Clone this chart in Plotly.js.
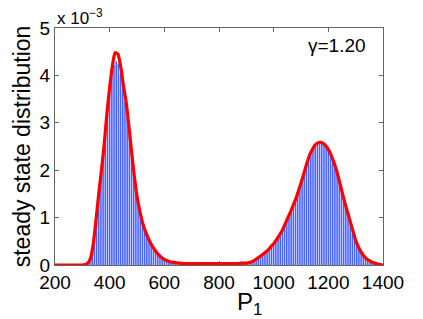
<!DOCTYPE html>
<html>
<head>
<meta charset="utf-8">
<script src="https://cdn.plot.ly/plotly-3.0.1.min.js"></script>
<style>html,body{margin:0;padding:0;background:#fff}#chart{width:423px;height:319px}</style>
</head>
<body>
<div id="chart"></div>
<script>
// Histogram bars (steady state distribution, units of 1e-3), bin centres 304, 312, ... 1392
const barStart = 304;
const barStep = 8;
const barValues = [
  0.00,0.01,0.03,0.09,0.30,0.62,1.03,1.48,1.88,2.30,2.78,3.27,3.68,4.02,4.22,4.30,
  4.25,4.05,3.75,3.45,3.10,2.75,2.30,1.90,1.58,1.30,1.07,0.88,0.72,0.60,0.50,0.42,
  0.34,0.28,0.23,0.18,0.14,0.11,0.09,0.07,0.06,0.05,0.04,0.04,0.03,0.03,0.02,0.02,
  0.02,0.02,0.02,0.01,0.02,0.02,0.01,0.02,0.02,0.02,0.01,0.02,0.02,0.02,0.02,0.01,
  0.02,0.02,0.02,0.02,0.02,0.02,0.02,0.02,0.02,0.03,
  0.03,0.04,0.05,0.06,0.08,0.11,0.14,0.17,0.21,0.25,0.29,0.34,0.39,0.45,0.51,0.58,
  0.66,0.74,0.84,0.94,1.05,1.16,1.27,1.38,1.52,1.66,1.81,1.96,2.11,2.26,2.38,2.47,
  2.53,2.57,2.60,2.59,2.55,2.50,2.43,2.34,2.22,2.09,1.95,1.78,1.59,1.41,1.24,1.08,
  0.92,0.76,0.60,0.47,0.36,0.27,0.20,0.15,0.11,0.08,0.06,0.04,0.03,0.02,0.01
];
// Red curve (units of 1e-3), P1 = 200, 210, ... 1400
const curveStart = 200;
const curveStep = 10;
const curveValues = [
  0,0,0,0,0,0,0,0,0,0,
  0.00,0.01,0.04,0.14,0.45,0.95,1.50,2.00,2.55,3.20,
  3.75,4.20,4.48,4.45,4.20,3.80,3.45,2.95,2.40,1.88,
  1.45,1.15,0.90,0.72,0.58,0.46,0.36,0.28,0.21,0.16,
  0.12,0.09,0.07,0.06,0.05,0.04,0.04,0.03,0.03,0.03,
  0.03,0.03,0.03,0.03,0.03,0.03,0.03,0.03,0.03,0.03,
  0.03,0.03,0.03,0.03,0.03,0.03,0.03,0.03,0.04,0.04,
  0.04,0.05,0.07,0.10,0.14,0.18,0.22,0.27,0.32,0.39,
  0.45,0.53,0.62,0.71,0.84,0.97,1.10,1.24,1.38,1.55,
  1.73,1.92,2.12,2.30,2.42,2.52,2.57,2.59,2.57,2.52,
  2.44,2.32,2.17,2.00,1.78,1.55,1.32,1.12,0.92,0.72,
  0.52,0.38,0.27,0.19,0.13,0.09,0.06,0.04,0.02,0.01,
  0.00
];
const xTicks = [200,400,600,800,1000,1200,1400];
const yTicks = [0,1,2,3,4,5];

const axisColor = '#666666';
const fontFam = 'Liberation Sans, Arial, sans-serif';
const tickFont = {family: fontFam, size: 19, color: '#000'};

const data = [
  {type: 'bar', x0: barStart, dx: barStep, y: barValues,
   marker: {color: '#4662ff', line: {width: 0}}, hoverinfo: 'skip'},
  {type: 'scatter', mode: 'lines', x0: curveStart, dx: curveStep, y: curveValues,
   line: {color: '#ff0000', width: 3.2, shape: 'spline', smoothing: 0.6}, hoverinfo: 'skip'}
];

const layout = {
  width: 423, height: 319,
  margin: {l: 55, r: 40, t: 28, b: 54},
  paper_bgcolor: '#fff', plot_bgcolor: '#fff',
  showlegend: false, bargap: 0.28,
  xaxis: {range: [200, 1400], tickvals: xTicks, ticks: 'inside', ticklen: 4, tickcolor: axisColor,
          showline: true, linecolor: axisColor, linewidth: 1, mirror: 'ticks', showgrid: false,
          zeroline: false, tickfont: tickFont, ticklabelstandoff: 0},
  yaxis: {range: [0, 5], tickvals: yTicks, ticks: 'inside', ticklen: 4, tickcolor: axisColor,
          showline: true, linecolor: axisColor, linewidth: 1, mirror: 'ticks', showgrid: false,
          zeroline: false, tickfont: tickFont, ticklabelstandoff: 0,
          title: {text: 'steady state distribution', font: {family: fontFam, size: 23, color: '#000'}, standoff: 2}},
  annotations: [
    {xref: 'paper', yref: 'paper', x: 0.594, y: -0.09, xanchor: 'center', yanchor: 'top', showarrow: false,
     text: 'P<sub>1</sub>', font: {family: fontFam, size: 24, color: '#000'}},
    {xref: 'paper', yref: 'paper', x: 0.0, y: 1.0, xanchor: 'left', yanchor: 'bottom', showarrow: false,
     text: 'x 10<sup>−3</sup>', font: {family: fontFam, size: 17, color: '#000'}, yshift: -2},
    {xref: 'paper', yref: 'paper', x: 0.86, y: 0.925, xanchor: 'center', yanchor: 'middle', showarrow: false,
     text: 'γ=1.20', font: {family: fontFam, size: 19, color: '#000'}}
  ]
};

Plotly.newPlot('chart', data, layout, {staticPlot: true, displayModeBar: false});
</script>
</body>
</html>
